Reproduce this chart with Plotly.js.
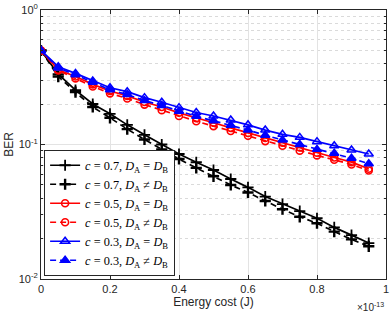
<!DOCTYPE html>
<html><head><meta charset="utf-8">
<script src="https://cdn.plot.ly/plotly-3.0.1.min.js"></script>
<style>html,body{margin:0;padding:0;background:#fff}#chart{width:391px;height:317px}</style>
</head><body><div id="chart"></div>
<script>
// Energy cost in units of 1e-13 J
const energy = [0,0.05,0.1,0.15,0.2,0.25,0.3,0.35,0.4,0.45,0.5,0.55,0.6,0.65,0.7,0.75,0.8,0.85,0.9,0.95];
const ber_c07_eq  = [0.5,0.333,0.254,0.2,0.169,0.14,0.118,0.1,0.085,0.0738,0.0646,0.0554,0.048,0.041,0.036,0.032,0.0283,0.0242,0.0212,0.0185];
const ber_c07_neq = [0.5,0.32,0.245,0.19,0.158,0.13,0.109,0.092,0.078,0.067,0.058,0.05,0.044,0.038,0.033,0.029,0.026,0.0225,0.0197,0.0175];
const ber_c05_eq  = [0.5,0.36,0.32,0.28,0.25,0.23,0.207,0.19,0.172,0.157,0.145,0.133,0.122,0.112,0.103,0.095,0.087,0.08,0.074,0.066];
const ber_c05_neq = [0.5,0.355,0.31,0.27,0.24,0.22,0.198,0.18,0.163,0.149,0.137,0.126,0.116,0.106,0.098,0.09,0.083,0.077,0.071,0.064];
const ber_c03_eq  = [0.5,0.379,0.338,0.297,0.264,0.247,0.223,0.206,0.188,0.173,0.163,0.152,0.14,0.128,0.119,0.113,0.105,0.098,0.091,0.085];
const ber_c03_neq = [0.5,0.37,0.33,0.29,0.255,0.235,0.212,0.195,0.177,0.162,0.15,0.139,0.128,0.117,0.108,0.1,0.092,0.086,0.079,0.072];
const names = [
  '<i>c</i> = 0.7, <i>D</i><sub>A</sub> = <i>D</i><sub>B</sub>',
  '<i>c</i> = 0.7, <i>D</i><sub>A</sub> ≠ <i>D</i><sub>B</sub>',
  '<i>c</i> = 0.5, <i>D</i><sub>A</sub> = <i>D</i><sub>B</sub>',
  '<i>c</i> = 0.5, <i>D</i><sub>A</sub> ≠ <i>D</i><sub>B</sub>',
  '<i>c</i> = 0.3, <i>D</i><sub>A</sub> = <i>D</i><sub>B</sub>',
  '<i>c</i> = 0.3, <i>D</i><sub>A</sub> ≠ <i>D</i><sub>B</sub>'
];
const xTicks = [0,0.2,0.4,0.6,0.8,1];
const xTickText = ['0','0.2','0.4','0.6','0.8','1'];
const yTicks = [0.01,0.1,1];
const yTickText = ['10<sup>-2</sup>','10<sup>-1</sup>','10<sup>0</sup>'];

function tr(y,name,color,dash,sym,msize,mline,fill){
  return {x:energy,y:y,name:name,type:'scatter',mode:'lines+markers',
    line:{color:color,width:1.7,dash:dash},
    marker:{symbol:sym,size:msize,color:fill,line:{color:color,width:mline}}};
}
const DASH = '6px,4px';
const data = [
  tr(ber_c07_eq,names[0],'#000000','solid','cross-thin-open',8,1.8,'#000'),
  tr(ber_c07_neq,names[1],'#000000',DASH,'cross-thin-open',8,2.4,'#000'),
  tr(ber_c05_eq,names[2],'#ff0000','solid','circle-open',7,1.6,'#ff0000'),
  tr(ber_c05_neq,names[3],'#ff0000',DASH,'circle-open',7,1.6,'#ff0000'),
  tr(ber_c03_eq,names[4],'#0000ff','solid','triangle-up',8,1.5,'rgba(0,0,255,0.15)'),
  tr(ber_c03_neq,names[5],'#0000ff',DASH,'triangle-up',8,1.5,'#0000ff')
];
const axcol = '#262626';
const layout = {
  width:391,height:317,
  margin:{l:41,r:5,t:10,b:38},
  paper_bgcolor:'#fff',plot_bgcolor:'#fff',
  font:{family:'Liberation Sans, Arial, sans-serif',size:11,color:axcol},
  xaxis:{range:[0,1],tickvals:xTicks,ticktext:xTickText,showgrid:true,gridcolor:'#e3e3e3',gridwidth:1,
    zeroline:false,showline:true,linecolor:axcol,linewidth:1,mirror:'allticks',ticks:'inside',ticklen:4,tickcolor:axcol,
    title:{text:'Energy cost (J)',font:{size:12,color:axcol},standoff:1}},
  yaxis:{type:'log',range:[-2,0],tickvals:yTicks,ticktext:yTickText,showgrid:true,gridcolor:'#e3e3e3',gridwidth:1,
    zeroline:false,showline:true,linecolor:axcol,linewidth:1,mirror:'allticks',ticks:'inside',ticklen:4,tickcolor:axcol,
    minor:{dtick:'D1',showgrid:true,gridcolor:'#dadada',griddash:'dot',gridwidth:1,ticks:'inside',ticklen:2,tickcolor:axcol},
    title:{text:'BER',font:{size:12,color:axcol},standoff:2}},
  legend:{x:0.009,y:0.012,xanchor:'left',yanchor:'bottom',bgcolor:'#fff',bordercolor:axcol,borderwidth:1,
    font:{family:'Liberation Serif, Times New Roman, serif',size:12.3,color:'#000'},tracegroupgap:0,itemwidth:30},
  showlegend:true,
  annotations:[{xref:'paper',yref:'paper',x:1.0,y:-0.075,xanchor:'right',yanchor:'top',showarrow:false,
    text:'×10<sup>-13</sup>',font:{size:10,color:axcol}}]
};
Plotly.newPlot('chart',data,layout,{displayModeBar:false,staticPlot:true});
</script></body></html>
